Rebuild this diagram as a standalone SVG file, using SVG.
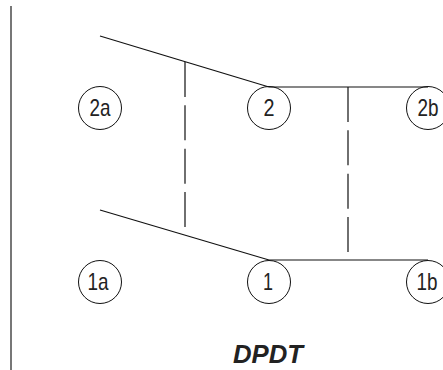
<svg xmlns="http://www.w3.org/2000/svg" width="443" height="370" viewBox="0 0 443 370">
<style>
.n circle{fill:#fff;stroke:#111;stroke-width:1}
.n text{font-family:"Liberation Sans",Arial,sans-serif;font-size:24px;fill:#222;text-anchor:middle}
.c line{stroke:#111;stroke-width:1.2}
.c .d{stroke-dasharray:35 8.33;stroke-width:1.2}
</style>
<rect width="443" height="370" fill="#fff"/>
<line x1="11" y1="6" x2="11" y2="370" stroke="#777" stroke-width="2"/>
<g id="n2a" class="n"><circle cx="100" cy="108" r="21.5"/><text x="100" y="116" textLength="21" lengthAdjust="spacingAndGlyphs">2a</text></g>
<g id="n2" class="n"><circle cx="269" cy="108" r="21.5"/><text x="269" y="116" textLength="11" lengthAdjust="spacingAndGlyphs">2</text></g>
<g id="n2b" class="n"><circle cx="428" cy="108" r="21.5"/><text x="428" y="116" textLength="21" lengthAdjust="spacingAndGlyphs">2b</text></g>
<g id="n1a" class="n"><circle cx="100" cy="282" r="21.5"/><text x="98" y="290" textLength="21" lengthAdjust="spacingAndGlyphs">1a</text></g>
<g id="n1" class="n"><circle cx="269" cy="282" r="21.5"/><text x="268" y="290" textLength="10" lengthAdjust="spacingAndGlyphs">1</text></g>
<g id="n1b" class="n"><circle cx="428" cy="282" r="21.5"/><text x="427" y="290" textLength="21" lengthAdjust="spacingAndGlyphs">1b</text></g>
<g id="connectors" class="c">
<line x1="100" y1="36" x2="269" y2="87"/>
<line x1="269" y1="87" x2="428" y2="87" stroke-width="1.5"/>
<line x1="100" y1="210" x2="269" y2="260"/>
<line x1="269" y1="260" x2="428" y2="260"/>
<line class="d" x1="185" y1="62" x2="185" y2="227"/>
<line class="d" x1="348" y1="87" x2="348" y2="252"/>
</g>
<text x="233" y="363" font-family="Liberation Sans,Arial,sans-serif" font-size="25" font-weight="bold" font-style="italic" fill="#222" textLength="70" lengthAdjust="spacingAndGlyphs">DPDT</text>
</svg>
